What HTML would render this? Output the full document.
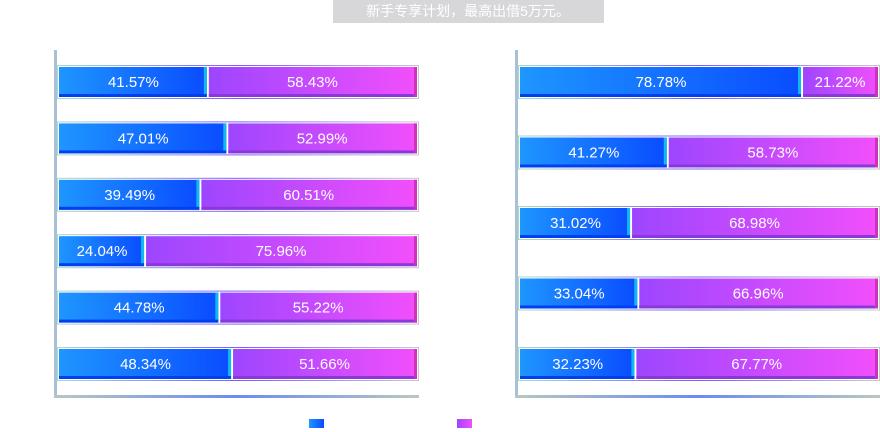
<!DOCTYPE html>
<html><head><meta charset="utf-8"><style>
body{margin:0;background:#fff;}
svg{display:block;font-family:"Liberation Sans","Noto Sans CJK SC",sans-serif;}
</style></head><body>
<svg id="chart" width="880" height="432" viewBox="0 0 880 432">
<defs>
<linearGradient id="gBlue" x1="0" x2="1"><stop offset="0" stop-color="#1e96ff"/><stop offset="1" stop-color="#0a4cff"/></linearGradient>
<linearGradient id="gPurp" x1="0" x2="1"><stop offset="0" stop-color="#9d46ff"/><stop offset="1" stop-color="#f24ffb"/></linearGradient>
<linearGradient id="gFrame" x1="0" x2="1"><stop offset="0" stop-color="#a8dcc8"/><stop offset="0.5" stop-color="#7a5cff"/><stop offset="1" stop-color="#c8c8c8"/></linearGradient>
<linearGradient id="gAxis" x1="0" x2="1"><stop offset="0" stop-color="#b8c8c0"/><stop offset="0.5" stop-color="#6a8cf0"/><stop offset="1" stop-color="#b8c8c0"/></linearGradient>
</defs>
<rect x="333" y="0" width="271" height="23" fill="#d7d7d9"/>
<text x="468" y="16" text-anchor="middle" font-size="14" fill="#fff">新手专享计划，最高出借5万元。</text>
<rect x="54" y="50" width="3" height="348" fill="#a8c0d8"/>
<rect x="54" y="395" width="365" height="3" fill="url(#gAxis)"/>
<rect x="515" y="50" width="3" height="348" fill="#a8c0d8"/>
<rect x="515" y="395" width="365" height="3" fill="url(#gAxis)"/>
<g id="bars"></g>
<rect x="309" y="419" width="15" height="9" fill="url(#gBlue)"/>
<rect x="457" y="419" width="15" height="9" fill="url(#gPurp)"/>
</svg>
<script>
const leftBlue=[41.57,47.01,39.49,24.04,44.78,48.34];
const leftPurple=[58.43,52.99,60.51,75.96,55.22,51.66];
const rightBlue=[78.78,41.27,31.02,33.04,32.23];
const rightPurple=[21.22,58.73,68.98,66.96,67.77];
const NS="http://www.w3.org/2000/svg";
const g=document.getElementById('bars');
function mk(t,a){const e=document.createElementNS(NS,t);for(const k in a)e.setAttribute(k,a[k]);g.appendChild(e);return e;}
function panel(blue,purple,x0,x1,yTop,yBot,side){
  const n=blue.length;const step=(yBot-yTop)/(n-1);
  const w=x1-x0;
  blue.forEach((b,i)=>{
    const p=purple[i];const tot=b+p;
    const cy=yTop+i*step;
    const fr=mk('rect',{x:x0-1.5,y:cy-16.5,width:w+3,height:33,fill:'none',stroke:'url(#gFrame)','stroke-width':1});
    
    
    const bw=w*b/tot;
    const r1=mk('rect',{x:x0,y:cy-15,width:bw-1,height:30,fill:'url(#gBlue)'});
    
    
    const s1=mk('rect',{x:x0,y:cy+12,width:bw-1,height:3,fill:'#0040f0'});
    
    
    const c1=mk('rect',{x:x0+bw-4,y:cy-15,width:3,height:27,fill:'#10b8f0'});
    
    
    const r2=mk('rect',{x:x0+bw+1,y:cy-15,width:w-bw-1,height:30,fill:'url(#gPurp)'});
    
    
    const s2=mk('rect',{x:x0+bw+1,y:cy+12,width:w-bw-1,height:3,fill:'#8a38d8'});
    
    
    const c2=mk('rect',{x:x0+w-3,y:cy-15,width:3,height:30,fill:'#d030c0'});
    
    
    const t1=mk('text',{x:x0+bw/2,y:cy+5,'text-anchor':'middle','font-size':15,fill:'#fff'});
    t1.textContent=b.toFixed(2)+'%';
    
    
    const t2=mk('text',{x:x0+bw+(w-bw)/2,y:cy+5,'text-anchor':'middle','font-size':15,fill:'#fff'});
    t2.textContent=p.toFixed(2)+'%';
    
    
  });
}
panel(leftBlue,leftPurple,59,417,82,364,'left');
panel(rightBlue,rightPurple,520,878,82,364,'right');
</script>
</body></html>
